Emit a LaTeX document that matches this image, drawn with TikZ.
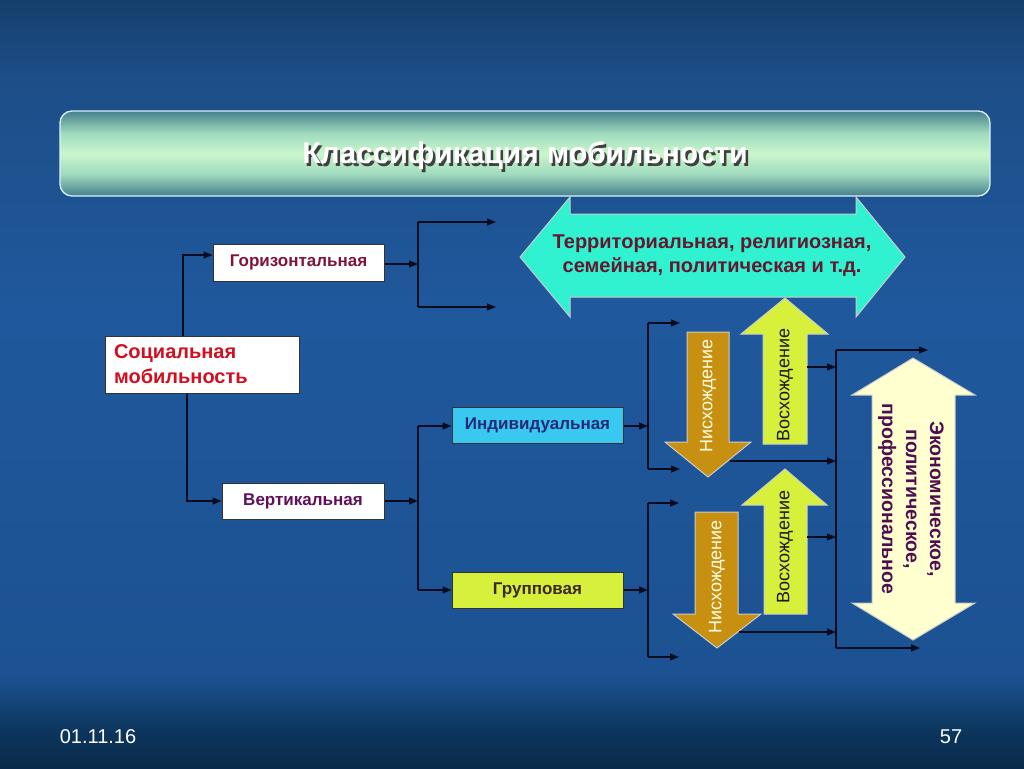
\documentclass[tikz,border=0pt]{standalone}
\usepackage{fontspec}
\setmainfont{Liberation Sans}
\usetikzlibrary{arrows.meta,calc}
\definecolor{bgA}{RGB}{9,42,74}
\definecolor{bgB}{RGB}{12,54,94}
\definecolor{bgC}{RGB}{28,82,146}
\definecolor{bgD}{RGB}{31,88,156}
\definecolor{bgE}{RGB}{29,78,136}
\definecolor{bgF}{RGB}{22,62,108}
\definecolor{tE}{RGB}{70,128,140}
\definecolor{tQ}{RGB}{160,218,190}
\definecolor{tMid}{RGB}{202,246,204}
\definecolor{horT}{RGB}{128,20,55}
\definecolor{socT}{RGB}{208,16,32}
\definecolor{verT}{RGB}{96,16,90}
\definecolor{indF}{RGB}{56,200,240}
\definecolor{indT}{RGB}{40,40,120}
\definecolor{ygF}{RGB}{214,240,60}
\definecolor{grpT}{RGB}{60,40,30}
\definecolor{tealF}{RGB}{48,242,208}
\definecolor{tealT}{RGB}{100,24,48}
\definecolor{brF}{RGB}{200,144,16}
\definecolor{crF}{RGB}{255,255,208}
\definecolor{crT}{RGB}{80,12,80}
\definecolor{lnC}{RGB}{8,12,30}
\pgfdeclareverticalshading{bgsh}{100bp}{color(0bp)=(bgA); color(25bp)=(bgA); color(27.5bp)=(bgB); color(31bp)=(bgC); color(55bp)=(bgD); color(70bp)=(bgE); color(75bp)=(bgF); color(100bp)=(bgF)}
\pgfdeclareverticalshading{titlesh}{100bp}{color(0bp)=(tE); color(25bp)=(tE); color(38bp)=(tQ); color(50bp)=(tMid); color(62bp)=(tQ); color(75bp)=(tE); color(100bp)=(tE)}
\tikzset{
  ln/.style={draw=lnC, line width=1.2pt},
  arr/.style={ln, -{Triangle[length=9pt,width=7pt]}},
  box/.style={draw=black!80, line width=1pt, inner sep=2pt, font=\fontsize{17}{20}\selectfont\bfseries},
  shp/.style={draw=white!80!black, line width=1pt},
  vlab/.style={font=\fontsize{18}{21}\selectfont, inner sep=0pt},
}
\newcommand{\shadowtext}[1]{\makebox[0pt][l]{\hspace{2.5pt}\raisebox{-2.5pt}{\color{black!75}#1}}#1}
\begin{document}
\begin{tikzpicture}[x=1pt,y=-1pt]
\useasboundingbox (0,0) rectangle (1024,768);
\shade[shading=bgsh] (0,0) rectangle (1024,768);

% title
\node[rounded corners=12pt, draw=white!85!cyan, line width=1.3pt, minimum width=930pt, minimum height=85pt,
  shading=titlesh] (tbox) at (525,153.5) {};
\node[text=white, font=\fontsize{30}{34}\selectfont\bfseries] (title) at (525,157) {\shadowtext{Классификация мобильности}};

% boxes
\node[box, fill=white, text=horT, minimum width=171pt, minimum height=37pt] (hor) at (298.5,262.5) {Горизонтальная};
\node[box, fill=white, text=socT, minimum height=57pt, text width=176pt, inner xsep=9pt, align=left,
  font=\fontsize{20}{25}\selectfont\bfseries] (soc) at (202,364.5) {Социальная\\мобильность};
\node[box, fill=white, text=verT, minimum width=162pt, minimum height=36pt] (vert) at (303,501) {Вертикальная};
\node[box, fill=indF, text=indT, minimum width=171pt, minimum height=36pt] (ind) at (537.5,425) {Индивидуальная};
\node[box, fill=ygF, text=grpT, minimum width=171pt, minimum height=36pt] (grp) at (537.5,590) {Групповая};

% teal double arrow
\filldraw[shp, fill=tealF] (520,257) -- (570,197) -- (570,214) -- (856,214) -- (856,197) -- (905,257)
  -- (856,317) -- (856,297) -- (570,297) -- (570,317) -- cycle;
\node[text=tealT, align=center, font=\fontsize{20}{24}\selectfont\bfseries] (terr) at (712,256)
  {Территориальная, религиозная,\\семейная, политическая и т.д.};

% down / up arrows, set 1
\filldraw[shp, fill=brF] (687,332) -- (729,332) -- (729,442) -- (751,442) -- (708,477) -- (665,442) -- (687,442) -- cycle;
\node[vlab, rotate=90, text=white!90!yellow] (down1) at (708,396) {Нисхождение};
\filldraw[shp, fill=ygF] (785,298) -- (828,334) -- (807,334) -- (807,444) -- (763,444) -- (763,334) -- (741,334) -- cycle;
\node[vlab, rotate=90, text=black!90] (up1) at (785,385) {Восхождение};

% set 2
\filldraw[shp, fill=brF] (695,512) -- (738,512) -- (738,614) -- (761,614) -- (717,648) -- (673,614) -- (695,614) -- cycle;
\node[vlab, rotate=90, text=white!90!yellow] (down2) at (717,577) {Нисхождение};
\filldraw[shp, fill=ygF] (785,469) -- (827,505) -- (807,505) -- (807,614) -- (764,614) -- (764,505) -- (742,505) -- cycle;
\node[vlab, rotate=90, text=black!90] (up2) at (785,547) {Восхождение};

% cream double arrow
\filldraw[shp, fill=crF] (913,358) -- (975,395) -- (955,395) -- (955,603) -- (975,603) -- (913,640)
  -- (852,603) -- (872,603) -- (872,395) -- (852,395) -- cycle;
\node[rotate=-90, text=crT, align=center, font=\fontsize{19.5}{24}\selectfont\bfseries] (econ) at (911,499)
  {Экономическое,\\политическое,\\профессиональное};

% coordinates for connectors
\coordinate (a1) at (183,255);
\coordinate (a2) at (187,501);
\coordinate (j1) at (418,264);
\coordinate (j1t) at (418,222);
\coordinate (j1b) at (418,307);
\coordinate (e1t) at (496,222);
\coordinate (e1b) at (496,307);
\coordinate (j2) at (418,501);
\coordinate (j2t) at (418,426);
\coordinate (j2b) at (418,590);
\coordinate (j3) at (648,426);
\coordinate (j3t) at (648,323);
\coordinate (j3b) at (648,469);
\coordinate (e3t) at (680,323);
\coordinate (e3b) at (680,469);
\coordinate (j4) at (648,590);
\coordinate (j4t) at (648,503);
\coordinate (j4b) at (648,657);
\coordinate (e4t) at (679,503);
\coordinate (e4b) at (679,657);
\coordinate (u1o) at (807,367);
\coordinate (d1o) at (730,461);
\coordinate (u2o) at (807,537);
\coordinate (d2o) at (739,632);
\coordinate (jr) at (836,350);
\coordinate (jrb) at (836,648);
\coordinate (er) at (928,350);
\coordinate (erb) at (920,648);

% connectors
\draw[arr] (soc.north -| a1) |- (hor.west |- a1);
\draw[arr] (soc.south -| a2) |- (vert.west);
\draw[arr] (hor.east |- j1) -- (j1);
\draw[ln] (j1t) -- (j1b);
\draw[arr] (j1t) -- (e1t);
\draw[arr] (j1b) -- (e1b);
\draw[arr] (vert.east) -- (j2);
\draw[ln] (j2t) -- (j2b);
\draw[arr] (j2t) -- (ind.west |- j2t);
\draw[arr] (j2b) -- (grp.west |- j2b);
\draw[arr] (ind.east |- j3) -- (j3);
\draw[ln] (j3t) -- (j3b);
\draw[arr] (j3t) -- (e3t);
\draw[arr] (j3b) -- (e3b);
\draw[arr] (grp.east |- j4) -- (j4);
\draw[ln] (j4t) -- (j4b);
\draw[arr] (j4t) -- (e4t);
\draw[arr] (j4b) -- (e4b);
\draw[arr] (u1o) -- (u1o -| jr);
\draw[arr] (d1o) -- (d1o -| jr);
\draw[arr] (u2o) -- (u2o -| jr);
\draw[arr] (d2o) -- (d2o -| jr);
\draw[ln] (jr) -- (jrb);
\draw[arr] (jr) -- (er);
\draw[arr] (jrb) -- (erb);

% footer
\node[text=white, font=\fontsize{20}{23}\selectfont] (date) at (98,737) {01.11.16};
\node[text=white, font=\fontsize{20}{23}\selectfont] (page) at (951,737) {57};
\end{tikzpicture}
\end{document}
